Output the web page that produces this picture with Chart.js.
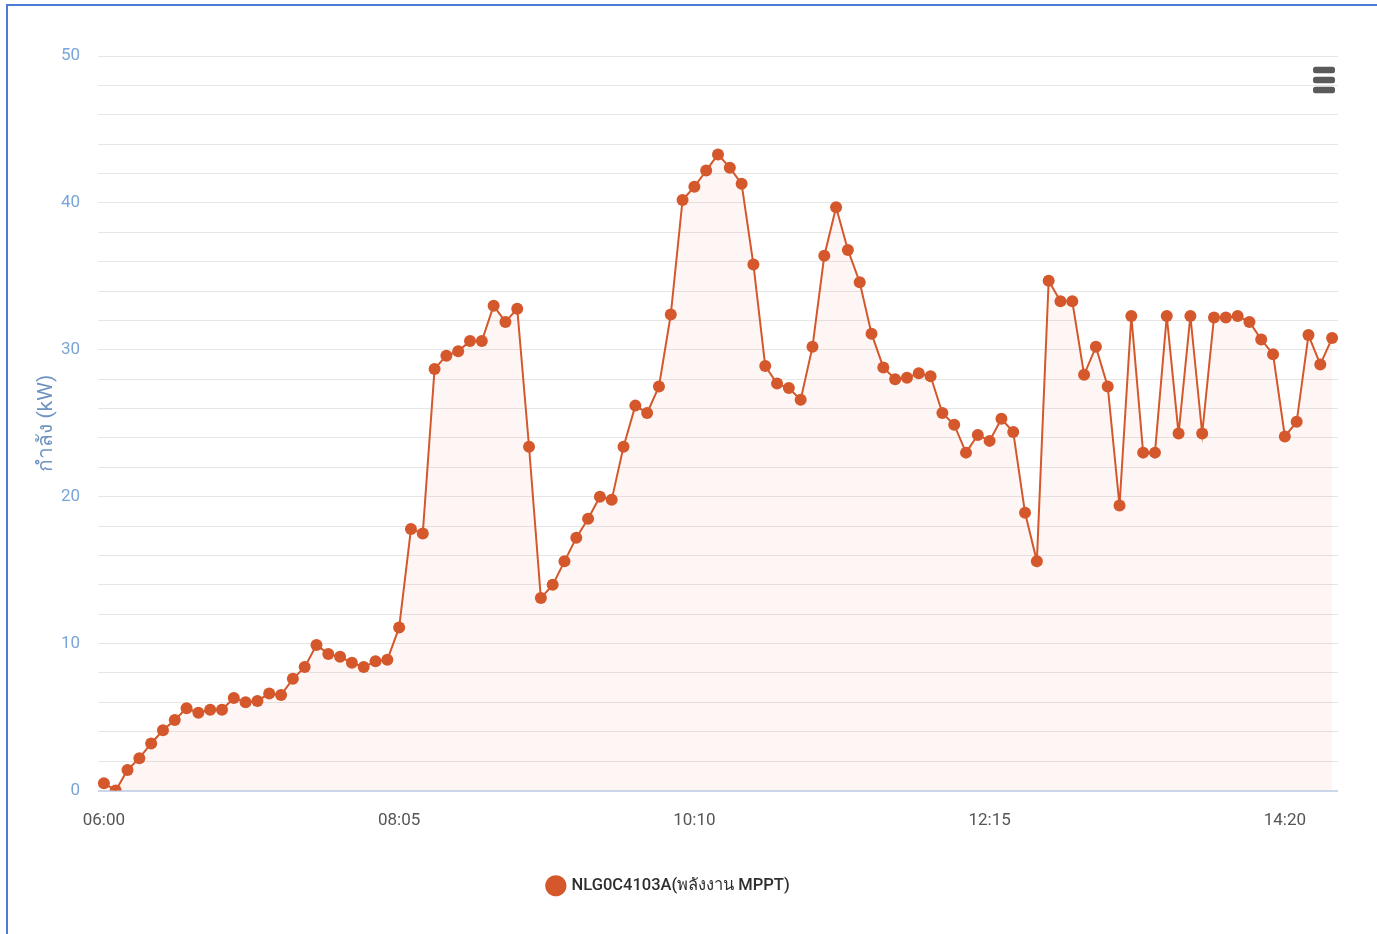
<!DOCTYPE html>
<html>
<head>
<meta charset="utf-8">
<script src="https://cdn.jsdelivr.net/npm/chart.js@4.4.1/dist/chart.umd.min.js"></script>
<style>
  html, body { margin: 0; padding: 0; background: #ffffff; overflow: hidden; }
  #frame {
    position: absolute; left: 6px; top: 4px; width: 1400px; height: 1000px;
    border: 2px solid #4f7bd8; box-sizing: border-box;
  }
  #wrap { position: absolute; left: 0; top: 0; width: 1377px; height: 934px; }
</style>
</head>
<body>
<div id="frame"></div>
<div id="wrap"><canvas id="c" width="1377" height="934"></canvas></div>
<script>
// Time of day, one reading every five minutes from 06:00 to 14:40
const startMinutes = 6 * 60;
const stepMinutes = 5;
const pointCount = 105;
const timeLabels = [];
for (let i = 0; i < pointCount; i++) {
  const m = startMinutes + i * stepMinutes;
  const hh = String(Math.floor(m / 60)).padStart(2, '0');
  const mm = String(m % 60).padStart(2, '0');
  timeLabels.push(hh + ':' + mm);
}

// Power readings (kW)
const powerKW = [
  0.5, 0.0, 1.4, 2.2, 3.2, 4.1, 4.8, 5.6, 5.3, 5.5,
  5.5, 6.3, 6.0, 6.1, 6.6, 6.5, 7.6, 8.4, 9.9, 9.3,
  9.1, 8.7, 8.4, 8.8, 8.9, 11.1, 17.8, 17.5, 28.7, 29.6,
  29.9, 30.6, 30.6, 33.0, 31.9, 32.8, 23.4, 13.1, 14.0, 15.6,
  17.2, 18.5, 20.0, 19.8, 23.4, 26.2, 25.7, 27.5, 32.4, 40.2,
  41.1, 42.2, 43.3, 42.4, 41.3, 35.8, 28.9, 27.7, 27.4, 26.6,
  30.2, 36.4, 39.7, 36.8, 34.6, 31.1, 28.8, 28.0, 28.1, 28.4,
  28.2, 25.7, 24.9, 23.0, 24.2, 23.8, 25.3, 24.4, 18.9, 15.6,
  34.7, 33.3, 33.3, 28.3, 30.2, 27.5, 19.4, 32.3, 23.0, 23.0,
  32.3, 24.3, 32.3, 24.3, 32.2, 32.2, 32.3, 31.9, 30.7, 29.7,
  24.1, 25.1, 31.0, 29.0, 30.8
];

const seriesName = 'NLG0C4103A(พลังงาน MPPT)';
const axisTitle = 'กำลัง (kW)';
const yTickLabels = [0, 10, 20, 30, 40, 50];
const labelEvery = 25;

const lineColor = '#d4582b';
const fontFamily = "Roboto, 'Noto Sans', sans-serif";

// Three-bar menu button in the top-right corner
const menuIcon = {
  id: 'menuIcon',
  afterDraw(chart) {
    const ctx = chart.ctx;
    ctx.save();
    ctx.fillStyle = '#5a5a5a';
    [70, 80, 90].forEach(cy => {
      const x = 1313, w = 22, h = 6.5, r = 2.5;
      const y = cy - h / 2;
      ctx.beginPath();
      ctx.moveTo(x + r, y);
      ctx.lineTo(x + w - r, y);
      ctx.quadraticCurveTo(x + w, y, x + w, y + r);
      ctx.lineTo(x + w, y + h - r);
      ctx.quadraticCurveTo(x + w, y + h, x + w - r, y + h);
      ctx.lineTo(x + r, y + h);
      ctx.quadraticCurveTo(x, y + h, x, y + h - r);
      ctx.lineTo(x, y + r);
      ctx.quadraticCurveTo(x, y, x + r, y);
      ctx.fill();
    });
    ctx.restore();
  }
};

new Chart(document.getElementById('c'), {
  type: 'line',
  data: {
    labels: timeLabels,
    datasets: [{
      label: seriesName,
      data: powerKW,
      borderColor: lineColor,
      backgroundColor: lineColor,
      borderWidth: 2,
      pointRadius: 6,
      pointBorderWidth: 0,
      pointBackgroundColor: lineColor,
      tension: 0,
      fill: { target: 'origin', above: 'rgba(212, 88, 43, 0.05)' }
    }]
  },
  options: {
    responsive: false,
    animation: false,
    layout: { padding: { left: 0, right: 39, top: 56, bottom: 30 } },
    plugins: {
      tooltip: { enabled: false },
      legend: {
        position: 'bottom',
        labels: {
          usePointStyle: true,
          pointStyle: 'circle',
          boxWidth: 15,
          boxHeight: 15,
          padding: 10,
          color: '#2e2e2e',
          font: { family: fontFamily, size: 16.5, weight: '500' }
        }
      }
    },
    scales: {
      x: {
        type: 'category',
        offset: true,
        grid: { display: false, drawTicks: false },
        border: { display: false },
        ticks: {
          autoSkip: false,
          maxRotation: 0,
          padding: 20,
          color: '#555555',
          font: { family: fontFamily, size: 17 },
          callback: (v, i) => (i % labelEvery === 0 ? timeLabels[i] : '')
        },
        afterFit: s => { s.height = 77; }
      },
      y: {
        min: 0,
        max: 50,
        grid: {
          drawTicks: false,
          color: ctx => (ctx.tick && ctx.tick.value === 0 ? '#ccd6eb' : '#e6e6e6'),
          lineWidth: ctx => (ctx.tick && ctx.tick.value === 0 ? 2 : 1)
        },
        border: { display: false },
        ticks: {
          stepSize: 2,
          padding: 18,
          color: '#7ba4d8',
          font: { family: fontFamily, size: 17 },
          callback: v => (yTickLabels.includes(v) ? String(v) : '')
        },
        title: {
          display: true,
          text: axisTitle,
          color: '#6f93bf',
          padding: { top: 34, bottom: 0 },
          font: { family: fontFamily, size: 21 }
        },
        afterFit: s => { s.width = 98; }
      }
    }
  },
  plugins: [menuIcon]
});
</script>
</body>
</html>
